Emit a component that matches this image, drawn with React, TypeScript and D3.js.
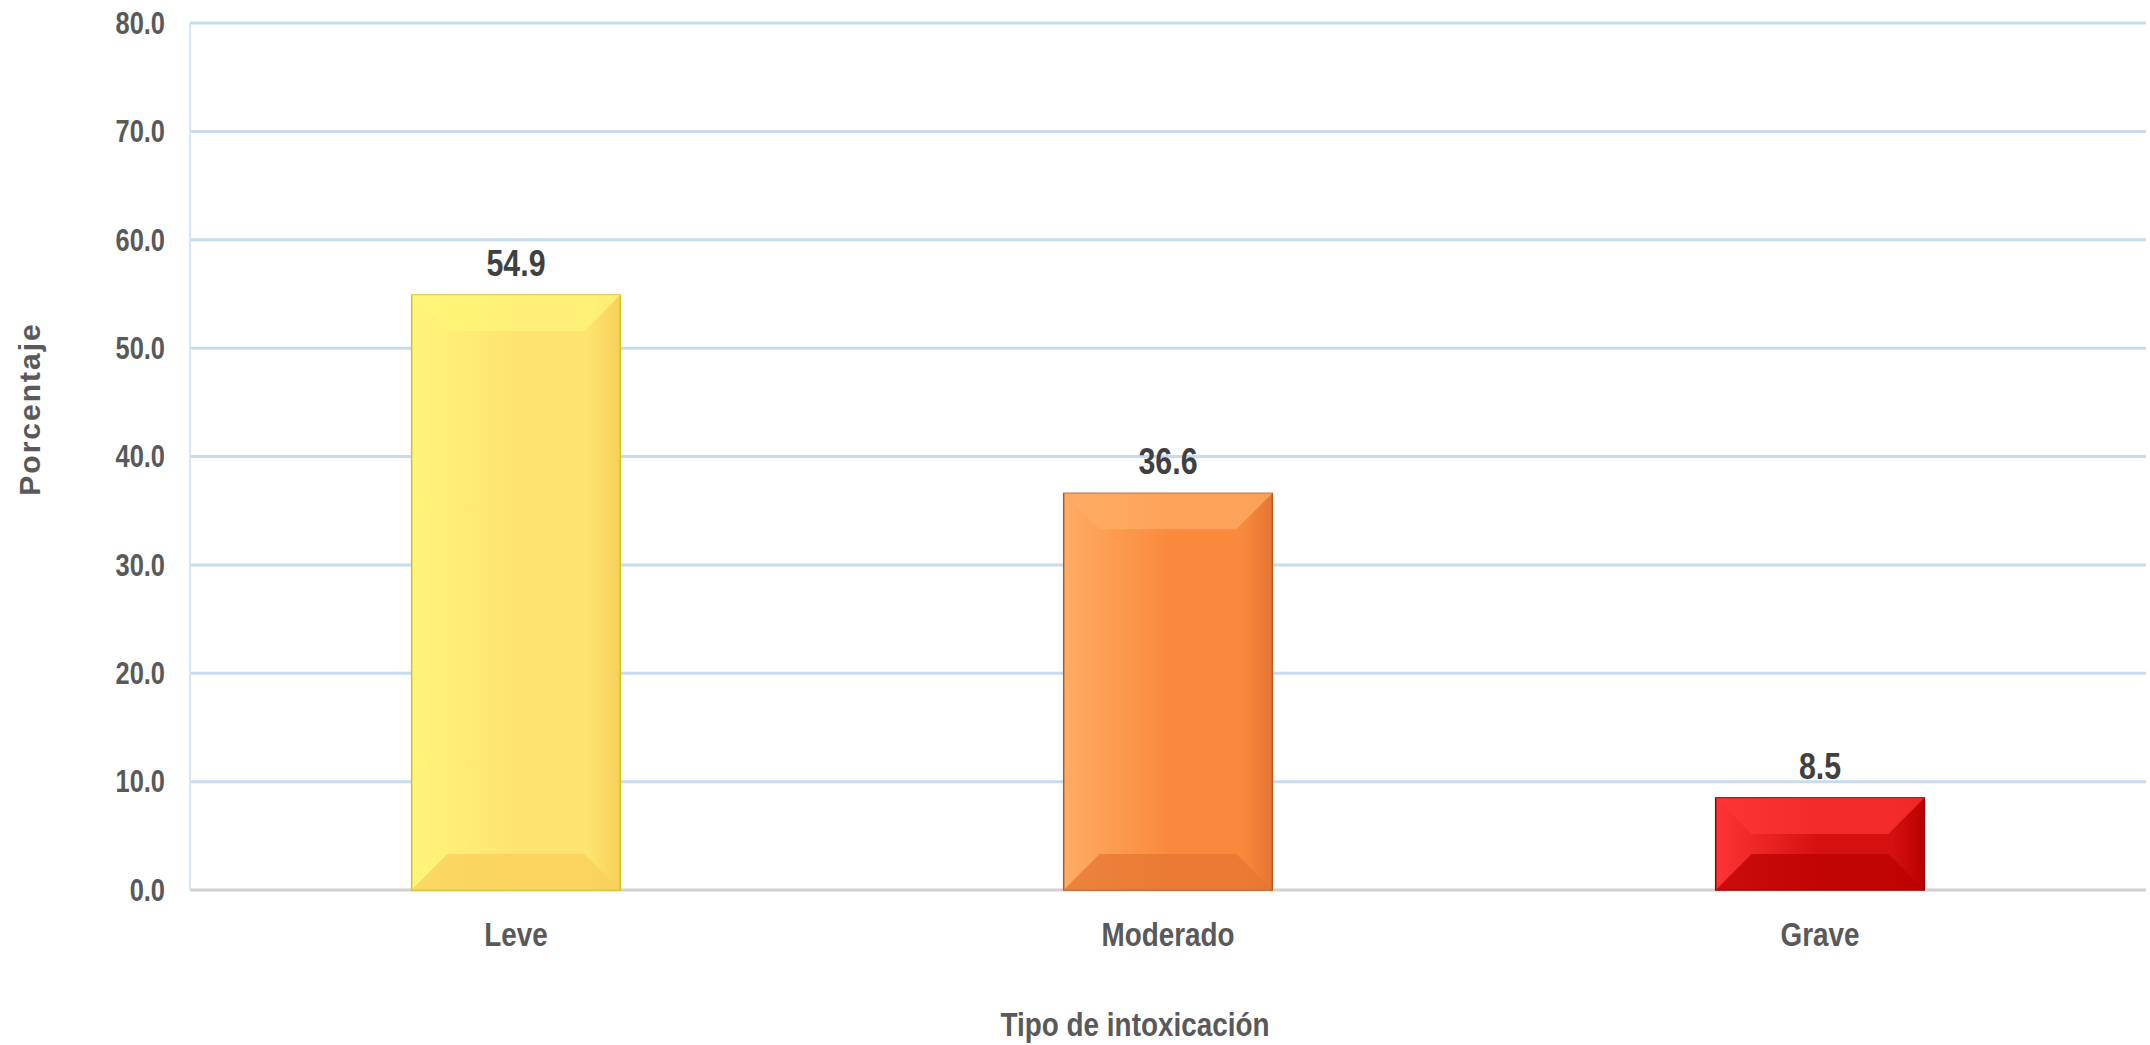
import * as d3 from 'd3';

const categories = ['Leve', 'Moderado', 'Grave'];
const values = [54.9, 36.6, 8.5];
const yTicks = [0, 10, 20, 30, 40, 50, 60, 70, 80];
const palettes = [
  { main: '#fee36f', light: '#fff57a', dark: '#f8cf5a', edge: '#d4c21a' },
  { main: '#f98a3c', light: '#ffac64', dark: '#e57532', edge: '#b85a1e' },
  { main: '#d41010', light: '#ff3434', dark: '#bb0000', edge: '#9a0000' },
];

const font = '"Liberation Sans", Arial, sans-serif';

// narrow bold text, emulated with a horizontal squeeze
function NText({ x, y, anchor, size, fill, children }: { x: number; y: number; anchor: string; size: number; fill: string; children: string }) {
  const k = 0.82;
  return (
    <text transform={`translate(${x},${y}) scale(${k},1)`} textAnchor={anchor} dy="0.35em" fontFamily={font} fontWeight="bold" fontSize={size} fill={fill}>
      {children}
    </text>
  );
}

export default function App() {
  const W = 2150, H = 1045;
  const m = { left: 190, right: 4, top: 23, bottom: 155 };
  const x = d3.scaleBand().domain(categories).range([m.left, W - m.right]).paddingInner(0.68).paddingOuter(0.34);
  const y = d3.scaleLinear().domain([0, 80]).range([H - m.bottom, m.top]);
  const bev = 36;

  return (
    <svg width={W} height={H} style={{ position: 'absolute', left: 0, top: 0, background: '#fff' }}>
      <defs>
        {palettes.map((p, i) => (
          <linearGradient key={i} id={`g${i}`} x1="0" x2="1" y1="0" y2="0">
            <stop offset="0" stopColor={p.light} />
            <stop offset="0.5" stopColor={p.main} />
            <stop offset="0.85" stopColor={p.main} />
            <stop offset="1" stopColor={p.dark} />
          </linearGradient>
        ))}
      </defs>
      {yTicks.map(t => (
        <g key={t}>
          <line x1={m.left} x2={W - m.right} y1={y(t)} y2={y(t)} stroke={t === 0 ? '#d0d0d0' : '#c6dbef'} strokeWidth={3} />
          <NText x={165} y={y(t)} anchor="end" size={31} fill="#595959">{t.toFixed(1)}</NText>
        </g>
      ))}
      <line x1={m.left} x2={m.left} y1={m.top} y2={y(0)} stroke="#d9e6f2" strokeWidth={2} />
      {categories.map((c, i) => {
        const x0 = x(c)!, w = x.bandwidth(), y0 = y(values[i]), y1 = y(0), p = palettes[i];
        const b = Math.min(bev, (y1 - y0) / 2);
        return (
          <g key={c}>
            <rect x={x0} y={y0} width={w} height={y1 - y0} fill={`url(#g${i})`} stroke={p.edge} strokeWidth={1.5} />
            <polygon points={`${x0},${y0} ${x0 + w},${y0} ${x0 + w - b},${y0 + b} ${x0 + b},${y0 + b}`} fill={p.light} opacity={0.75} />
            <polygon points={`${x0},${y1} ${x0 + w},${y1} ${x0 + w - b},${y1 - b} ${x0 + b},${y1 - b}`} fill={p.dark} opacity={0.75} />
            <NText x={x0 + w / 2} y={y0 - 32} anchor="middle" size={37} fill="#404040">{values[i].toFixed(1)}</NText>
            <NText x={x0 + w / 2} y={y(0) + 44} anchor="middle" size={34} fill="#595959">{c}</NText>
          </g>
        );
      })}
      <NText x={(m.left + W) / 2 - 35} y={1024} anchor="middle" size={34} fill="#595959">Tipo de intoxicación</NText>
      <text transform={`translate(40,${409}) rotate(-90)`} textAnchor="middle" fontFamily={font} fontWeight="bold" fontSize={30} letterSpacing={2} fill="#595959">Porcentaje</text>
    </svg>
  );
}
